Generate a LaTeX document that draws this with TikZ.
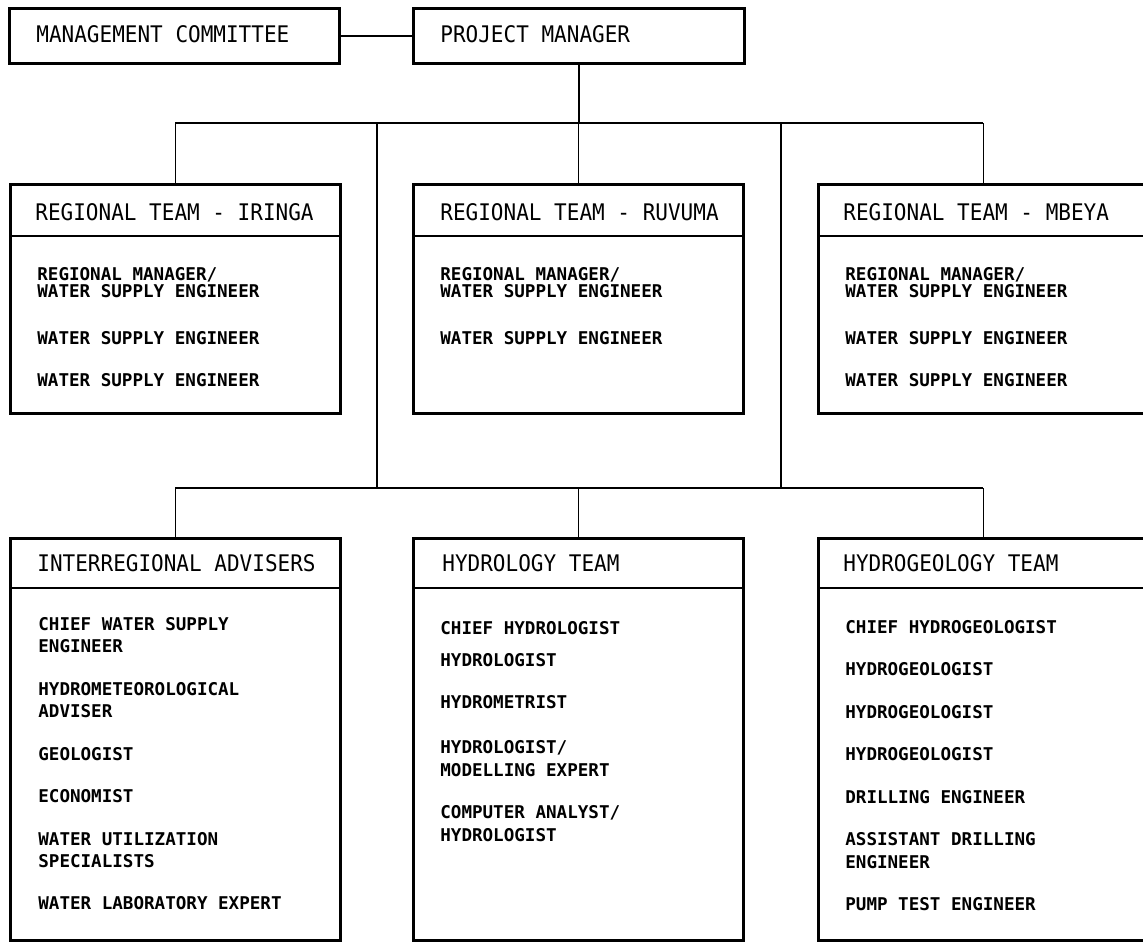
\documentclass[tikz,border=0pt]{standalone}
\usepackage{fontspec}
\newfontfamily\headfont[FakeStretch=0.92]{DejaVu Sans Mono}
\newfontfamily\bodyfont{DejaVu Sans Mono}
\usetikzlibrary{positioning}

\tikzset{
  unit/.style={draw, rectangle, line width=1.7pt, anchor=north west,
    minimum width=6.6cm, inner sep=0pt},
  headbox/.style={unit, minimum height=1.1cm},
  teambox/.style={unit, minimum height=4.58cm},
  groupbox/.style={unit, minimum height=8.04cm},
  title/.style={anchor=base west, inner sep=0pt,
    font=\headfont\fontsize{13}{15}\selectfont},
  teamstaff/.style={anchor=north west, inner sep=0pt, align=left,
    font=\bodyfont\bfseries\fontsize{10}{10}\selectfont},
  groupstaff/.style={anchor=north west, inner sep=0pt, align=left,
    font=\bodyfont\bfseries\fontsize{10}{12.7}\selectfont},
  link/.style={line width=0.9pt},
  divider/.style={line width=1.2pt}
}

\begin{document}
\begin{tikzpicture}[x=0.02cm, y=-0.02cm]
  \useasboundingbox (0,0) rectangle (1143,941);
  \clip (0,0) rectangle (1143,941);

  % top level
  \node[headbox] (mc) at (8,7) {};
  \node[headbox, minimum width=6.62cm] (pm) at (412,7) {};
  \node[title] (mctitle) at (36,42) {MANAGEMENT COMMITTEE};
  \node[title] (pmtitle) at (440,42) {PROJECT MANAGER};
  \draw[link] (mc.east) -- (pm.west);

  % regional teams
  \node[teambox] (iringa) at (9,183) {};
  \node[teambox] (ruvuma) at (412,183) {};
  \node[teambox] (mbeya)  at (817,183) {};
  \foreach \t in {iringa,ruvuma,mbeya}
    \draw[divider] ([yshift=-1.06cm]\t.north west) -- ([yshift=-1.06cm]\t.north east);
  \node[title] at (35,220) {REGIONAL TEAM - IRINGA};
  \node[title] at (440,220) {REGIONAL TEAM - RUVUMA};
  \node[title] at (843,220) {REGIONAL TEAM - MBEYA};

  \node[teamstaff] (iringastaff) at (37,267) {REGIONAL MANAGER/\\WATER SUPPLY ENGINEER\\[16.5pt]
    WATER SUPPLY ENGINEER\\[14pt]WATER SUPPLY ENGINEER};
  \node[teamstaff] (ruvumastaff) at (440,267) {REGIONAL MANAGER/\\WATER SUPPLY ENGINEER\\[16.5pt]
    WATER SUPPLY ENGINEER};
  \node[teamstaff] (mbeyastaff) at (845,267) {REGIONAL MANAGER/\\WATER SUPPLY ENGINEER\\[16.5pt]
    WATER SUPPLY ENGINEER\\[14pt]WATER SUPPLY ENGINEER};

  % specialist groups
  \node[groupbox] (advisers) at (9,537) {};
  \node[groupbox] (hydrology) at (412,537) {};
  \node[groupbox] (geology) at (817,537) {};
  \foreach \t in {advisers,hydrology,geology}
    \draw[divider] ([yshift=-1.02cm]\t.north west) -- ([yshift=-1.02cm]\t.north east);
  \node[title] at (37,571) {INTERREGIONAL ADVISERS};
  \node[title] at (442,571) {HYDROLOGY TEAM};
  \node[title] at (843,571) {HYDROGEOLOGY TEAM};

  \node[groupstaff] (adviserstaff) at (38,617) {CHIEF WATER SUPPLY\\ENGINEER\\[11.5pt]
    HYDROMETEOROLOGICAL\\ADVISER\\[11.5pt]GEOLOGIST\\[11.5pt]ECONOMIST\\[11.5pt]
    WATER UTILIZATION\\SPECIALISTS\\[11.5pt]WATER LABORATORY EXPERT};
  \node[groupstaff] (hydrologystaff) at (440,621) {CHIEF HYDROLOGIST\\[5.5pt]HYDROLOGIST\\[11.5pt]
    HYDROMETRIST\\[12.9pt]HYDROLOGIST/\\MODELLING EXPERT\\[11.5pt]
    COMPUTER ANALYST/\\HYDROLOGIST};
  \node[groupstaff] (geologystaff) at (845,620) {CHIEF HYDROGEOLOGIST\\[11.5pt]HYDROGEOLOGIST\\[11.5pt]
    HYDROGEOLOGIST\\[11.5pt]HYDROGEOLOGIST\\[11.5pt]DRILLING ENGINEER\\[11.5pt]
    ASSISTANT DRILLING\\ENGINEER\\[11.5pt]PUMP TEST ENGINEER};

  % connectors
  \coordinate (topbus) at (0,123);
  \coordinate (lowbus) at (0,488);
  \coordinate (leftdrop) at (377,123);
  \coordinate (rightdrop) at (781,123);
  \draw[link] (pm.south) -- (pm.south |- topbus);
  \draw[link] (iringa.north |- topbus) -- (mbeya.north |- topbus);
  \foreach \t in {iringa,ruvuma,mbeya}
    \draw[link] (\t.north |- topbus) -- (\t.north);
  \draw[link] (leftdrop) -- (leftdrop |- lowbus);
  \draw[link] (rightdrop) -- (rightdrop |- lowbus);
  \draw[link] (advisers.north |- lowbus) -- (geology.north |- lowbus);
  \foreach \t in {advisers,hydrology,geology}
    \draw[link] (\t.north |- lowbus) -- (\t.north);
\end{tikzpicture}
\end{document}
